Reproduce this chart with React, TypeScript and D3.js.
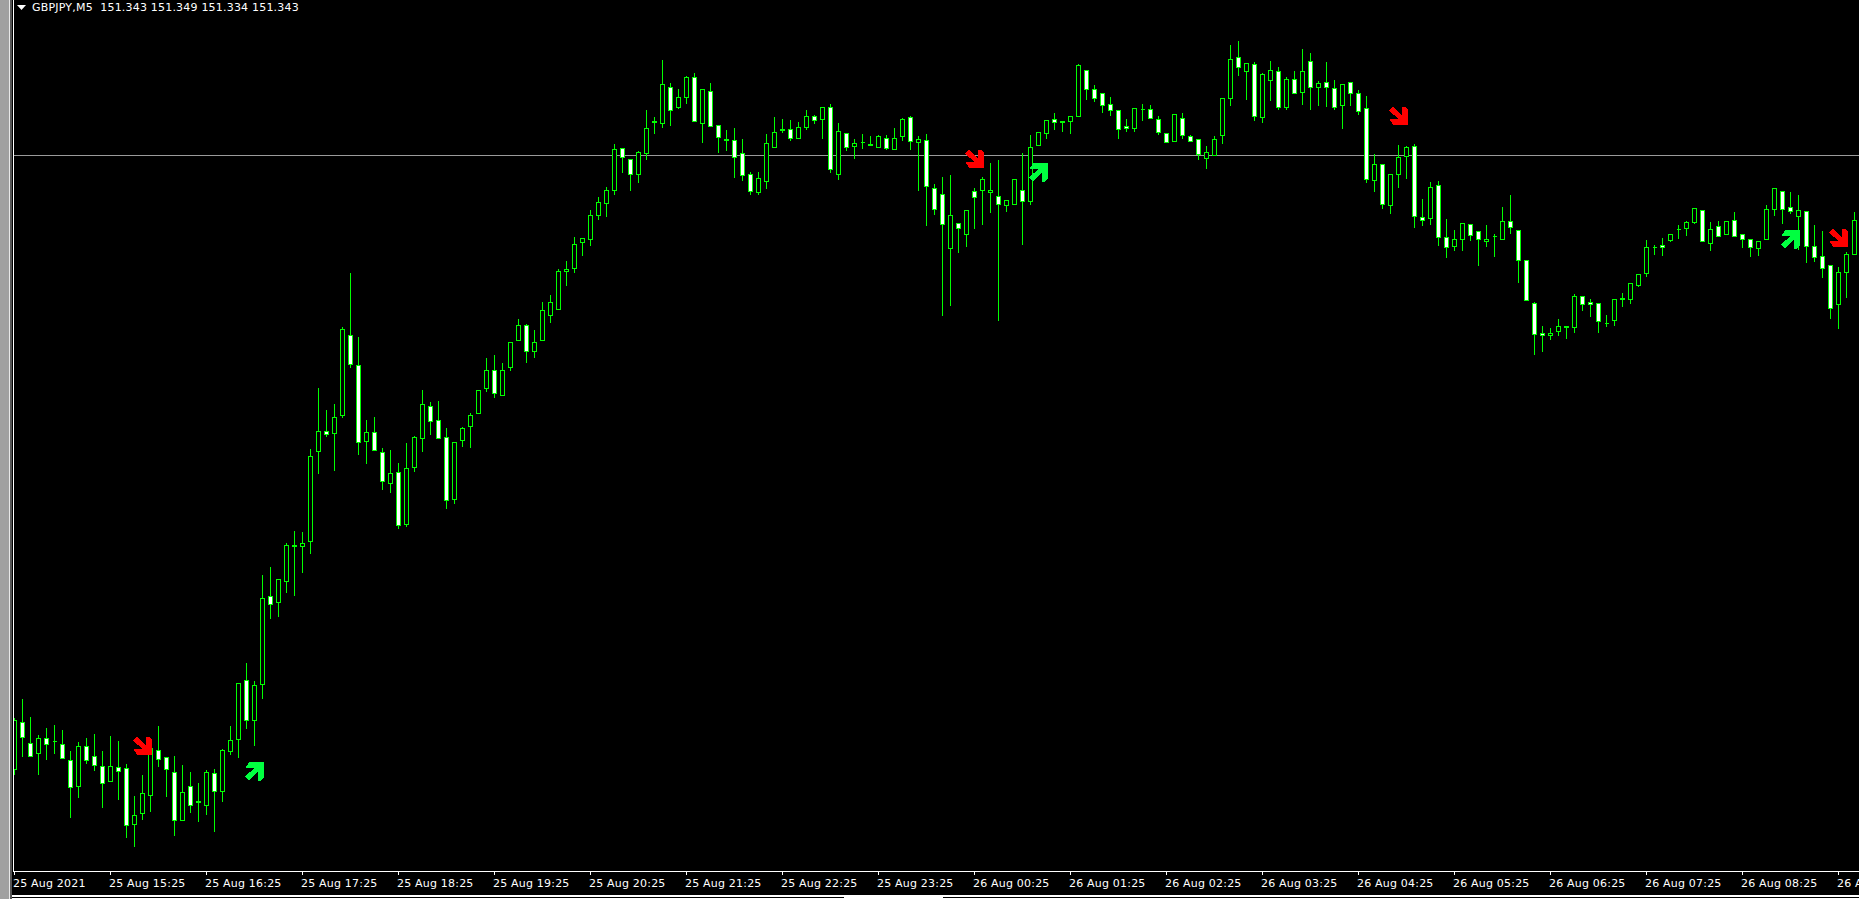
import React, { useEffect } from "react";
import * as d3 from "d3";

// GBPJPY M5 bars, in points (0.001 JPY) above 150.000
const highs = [
  781,800,782,764,771,774,769,748,757,761, 765,748,763,758,735,703,724,761,773,741,
  743,734,727,716,729,730,750,773,815,836, 818,924,932,919,956,968,967,1050,1111,1089,
  1095,1172,1226,1162,1079,1082,1051,1049,1036,1056, 1063,1109,1097,1098,1071,1056,1072,1086,1108,1141,
  1144,1136,1156,1180,1175,1169,1197,1204,1230,1238, 1262,1260,1289,1302,1312,1355,1351,1339,1348,1389,
  1382,1439,1416,1410,1423,1426,1409,1416,1373,1369, 1371,1360,1327,1327,1365,1382,1380,1379,1377,1389,
  1384,1391,1395,1376,1365,1360,1365,1363,1364,1364, 1371,1381,1383,1363,1365,1315,1322,1324,1276,1288,
  1311,1322,1336,1339,1298,1319,1346,1364,1366,1379, 1386,1377,1383,1435,1429,1414,1405,1402,1388,1380,
  1390,1395,1394,1383,1365,1384,1386,1364,1359,1353, 1363,1400,1454,1458,1435,1437,1426,1438,1432,1422,
  1428,1450,1446,1418,1437,1419,1415,1416,1409,1403, 1345,1334,1324,1354,1353,1355,1300,1317,1318,1280,
  1269,1275,1274,1267,1274,1265,1292,1304,1268,1238, 1197,1173,1171,1180,1173,1205,1202,1200,1195,1184,
  1200,1206,1216,1225,1259,1254,1261,1265,1274,1278, 1290,1288,1277,1278,1278,1287,1264,1259,1258,1294,
  1311,1308,1307,1304,1287,1274,1268,1233,1232,1247,1287,
];
const lows = [
  724,742,742,724,739,745,740,681,701,735, 728,691,717,699,661,652,679,687,732,702,
  663,678,686,677,684,667,697,744,741,770, 753,800,880,882,906,903,926,945,1025,1062,
  1028,1081,1131,1044,1035,1048,1009,1006,970,972, 1027,1047,1064,1060,990,995,1052,1051,1085,1107,
  1101,1103,1128,1158,1136,1141,1158,1176,1189,1213, 1226,1243,1253,1279,1282,1304,1326,1308,1316,1339,
  1365,1371,1373,1390,1395,1377,1356,1372,1346,1348, 1321,1318,1304,1304,1310,1351,1366,1358,1360,1369,
  1375,1360,1326,1319,1348,1340,1350,1353,1351,1349, 1349,1358,1349,1308,1273,1284,1183,1193,1246,1252,
  1270,1274,1286,1178,1287,1294,1254,1294,1353,1360, 1369,1367,1365,1382,1399,1397,1386,1383,1360,1367,
  1367,1378,1380,1364,1356,1357,1360,1357,1339,1330, 1343,1355,1393,1423,1399,1378,1376,1398,1389,1389,
  1405,1394,1389,1393,1392,1389,1370,1393,1384,1316, 1307,1290,1285,1311,1320,1271,1273,1274,1253,1241,
  1248,1248,1258,1233,1252,1242,1259,1265,1216,1198, 1144,1147,1159,1163,1160,1166,1188,1182,1166,1172,
  1173,1192,1195,1212,1222,1244,1243,1257,1260,1263, 1275,1257,1248,1262,1264,1262,1251,1242,1243,1259,
  1283,1275,1285,1249,1236,1237,1221,1180,1170,1201,1244,
];
const opens = [
  729,776,755,745,760,757,754,738,712,752, 742,732,717,731,730,674,685,703,748,741,
  726,678,712,697,693,725,707,747,759,818, 778,814,902,896,917,953,952,957,1047,1067,
  1065,1083,1163,1133,1057,1066,1046,1015,1026,974, 1031,1060,1092,1078,1061,999,1058,1072,1085,1110,
  1128,1103,1131,1158,1173,1147,1158,1183,1189,1227, 1230,1256,1259,1283,1295,1308,1350,1339,1324,1345,
  1377,1375,1411,1391,1401,1421,1375,1407,1373,1359, 1358,1345,1324,1306,1317,1351,1369,1369,1360,1371,
  1382,1379,1391,1324,1365,1352,1356,1354,1351,1360, 1349,1362,1381,1356,1358,1310,1304,1250,1275,1264,
  1307,1308,1306,1302,1293,1294,1308,1297,1353,1365, 1379,1377,1377,1382,1428,1409,1405,1394,1388,1372,
  1370,1389,1389,1379,1365,1357,1380,1362,1359,1340, 1343,1363,1400,1441,1427,1434,1381,1418,1427,1391,
  1419,1406,1437,1411,1416,1410,1393,1416,1405,1390, 1318,1334,1293,1324,1342,1352,1281,1280,1313,1261,
  1252,1259,1274,1267,1257,1262,1259,1277,1268,1238, 1195,1165,1163,1167,1172,1171,1202,1196,1195,1175,
  1178,1200,1199,1213,1225,1251,1253,1258,1269,1270, 1276,1288,1255,1272,1264,1278,1264,1259,1250,1259,
  1289,1307,1291,1282,1287,1252,1242,1233,1194,1226,1244,
];
const closes = [
  778,761,742,760,754,757,740,711,752,738, 733,715,732,727,673,683,705,750,739,729,
  678,706,693,696,726,707,748,758,815,778, 813,900,894,919,953,952,955,1042,1067,1064,
  1081,1169,1134,1056,1066,1048,1017,1025,973,1030, 1061,1094,1077,1060,998,1056,1070,1083,1108,1128,
  1105,1128,1156,1173,1147,1156,1188,1196,1227,1229, 1254,1260,1283,1296,1308,1349,1341,1324,1346,1370,
  1376,1414,1388,1401,1421,1377,1409,1372,1361,1358, 1341,1323,1307,1320,1355,1366,1368,1360,1371,1382,
  1378,1391,1329,1367,1351,1355,1356,1353,1362,1350, 1360,1379,1357,1359,1312,1289,1274,1283,1270,1288,
  1301,1319,1308,1294,1298,1319,1297,1351,1366,1378, 1376,1376,1382,1433,1409,1400,1393,1388,1369,1370,
  1390,1389,1380,1366,1356,1384,1363,1357,1344,1346, 1359,1400,1439,1431,1435,1382,1424,1428,1391,1419,
  1405,1427,1411,1415,1411,1391,1414,1405,1387,1319, 1334,1294,1324,1341,1351,1282,1278,1311,1261,1251,
  1259,1275,1263,1259,1259,1262,1277,1271,1238,1198, 1164,1163,1165,1172,1171,1202,1194,1194,1177,1175,
  1199,1199,1215,1224,1251,1251,1251,1264,1269,1276, 1290,1257,1269,1262,1277,1262,1259,1251,1257,1289,
  1310,1289,1287,1288,1252,1241,1230,1190,1226,1244,1278,
];

const bidPoints = 1343;
const headerText = "GBPJPY,M5  151.343 151.349 151.334 151.343";

const timeLabels = [
  "25 Aug 2021", "25 Aug 15:25", "25 Aug 16:25", "25 Aug 17:25", "25 Aug 18:25",
  "25 Aug 19:25", "25 Aug 20:25", "25 Aug 21:25", "25 Aug 22:25", "25 Aug 23:25",
  "26 Aug 00:25", "26 Aug 01:25", "26 Aug 02:25", "26 Aug 03:25", "26 Aug 04:25",
  "26 Aug 05:25", "26 Aug 06:25", "26 Aug 07:25", "26 Aug 08:25", "26 Aug 09:25",
];
const barsPerLabel = 12;

const signalBars = [17, 31, 121, 129, 174, 223, 229];
const signalPoints = [743, 736, 1330, 1335, 1373, 1268, 1251];
const signalSides = ["sell", "buy", "sell", "buy", "sell", "buy", "sell"];

const W = 1859;
const H = 899;
const PLOT_LEFT = 13;
const AXIS_Y = 871;
const GREEN = "#00ff00";

const xScale = d3.scaleLinear().domain([0, 230]).range([14, 14 + 8 * 230]);
const yScale = d3.scaleLinear().domain([1498 - AXIS_Y, 1498]).range([AXIS_Y, 0]);

// arrow glyph: tip at origin, pointing down-right
const arrowOutline: [number, number][] = [
  [0, 0], [0, -15], [-3.5, -18.5], [-6, -18.5], [-6, -9], [-15.5, -18.5], [-19, -14.5],
  [-9.5, -6], [-18.5, -6], [-15, 0],
];
const arrowPath = d3.line()(arrowOutline) + "Z";

export default function App() {
  useEffect(() => {
    document.body.style.margin = "0";
    document.body.style.overflow = "hidden";
    document.body.style.background = "#000";
  }, []);

  const font = { fontFamily: "'DejaVu Sans'", fontSize: 11, letterSpacing: 0.2 };

  return (
    <svg width={W} height={H} style={{ display: "block", position: "fixed", left: 0, top: 0 }}>
      <rect x={0} y={0} width={W} height={H} fill="#000" />

      {/* bid line */}
      <line
        x1={PLOT_LEFT + 1} x2={W}
        y1={yScale(bidPoints) + 0.5} y2={yScale(bidPoints) + 0.5}
        stroke="#9a9a9a" shapeRendering="crispEdges"
      />

      {/* candles */}
      <g shapeRendering="crispEdges">
        {opens.map((open, i) => {
          const close = closes[i];
          const cx = xScale(i) + 0.5;
          const top = yScale(Math.max(open, close)) + 0.5;
          const bottom = yScale(Math.min(open, close)) + 0.5;
          return (
            <g key={i}>
              <line x1={cx} x2={cx} y1={yScale(highs[i]) + 0.5} y2={yScale(lows[i]) + 0.5} stroke={GREEN} />
              {open === close ? (
                <line x1={cx - 2} x2={cx + 2.5} y1={top} y2={top} stroke={GREEN} />
              ) : (
                <rect
                  x={cx - 2} y={top} width={4} height={bottom - top}
                  fill={close > open ? "#000" : "#fff"} stroke={GREEN}
                />
              )}
            </g>
          );
        })}
      </g>

      {/* window frame, over the first clipped candle */}
      <g shapeRendering="crispEdges">
        <rect x={0} y={0} width={9} height={H} fill="#a0a0a0" />
        <rect x={9} y={0} width={1} height={H} fill="#e8e8e8" />
        <rect x={10} y={0} width={2} height={H} fill="#555" />
        <rect x={12} y={0} width={1} height={H} fill="#000" />
        <rect x={PLOT_LEFT} y={0} width={1} height={AXIS_Y} fill="#fff" />
        <rect x={PLOT_LEFT} y={AXIS_Y} width={W - PLOT_LEFT} height={1} fill="#fff" />
        <rect x={12} y={895} width={W - 12} height={4} fill="#fff" />
        <rect x={12} y={897} width={832} height={1} fill="#000" />
        <rect x={943} y={897} width={W - 943} height={1} fill="#000" />
      </g>

      {/* signal arrows */}
      <g>
        {signalBars.map((bar, i) => {
          const buy = signalSides[i] === "buy";
          const tx = xScale(bar) + 2;
          const ty = yScale(signalPoints[i]);
          return (
            <path
              key={i}
              d={arrowPath}
              transform={`translate(${tx},${ty}) scale(1,${buy ? -1 : 1})`}
              fill={buy ? "#00ff40" : "#ff0000"}
              shapeRendering="crispEdges"
            />
          );
        })}
      </g>

      {/* time axis */}
      <g fill="#fff" style={font}>
        {timeLabels.map((label, k) => {
          const x = xScale(k * barsPerLabel);
          return (
            <g key={label}>
              <rect x={x} y={AXIS_Y} width={1} height={4} fill="#fff" shapeRendering="crispEdges" />
              <text x={x - 1} y={887}>{label}</text>
            </g>
          );
        })}
      </g>

      {/* header */}
      <path d={d3.line()([[17, 5], [26, 5], [21.5, 10]]) + "Z"} fill="#fff" />
      <text x={32} y={11} fill="#fff" xmlSpace="preserve" style={{ ...font, whiteSpace: "pre" }}>{headerText}</text>
    </svg>
  );
}
